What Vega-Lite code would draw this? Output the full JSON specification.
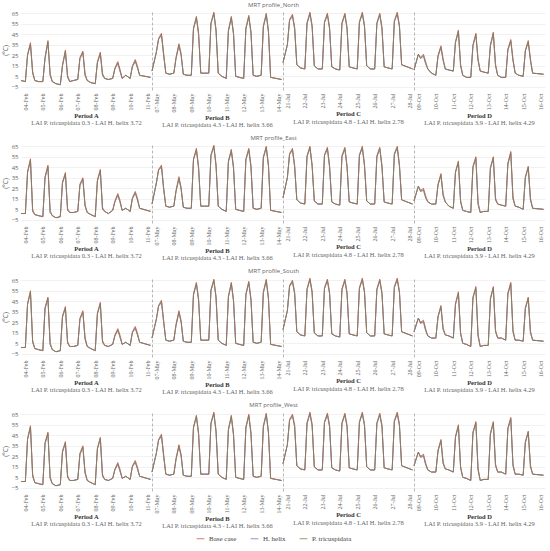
{
"$schema":"https://vega.github.io/schema/vega-lite/v6.json",
"padding":{"left":2,"right":2,"top":2,"bottom":2},
"spacing":6,
"config":{
 "view":{"stroke":null,"continuousWidth":131,"continuousHeight":80},
 "line":{"strokeWidth":0.8},
 "axis":{"labelColor":"#666","gridColor":"#e8e8e8","gridWidth":0.6,"ticks":false,"domain":false,"labelFontSize":6,"titleFontSize":6.5,"titleFontWeight":"normal","titleColor":"#666","titleFont":"Open Sans"},
 "axisX":{"labelFont":"Liberation Serif","labelAngle":-90,"grid":false,"labelPadding":3},
 "axisY":{"labelFont":"Open Sans","labelPadding":3,"titlePadding":3},
 "title":{"orient":"bottom","anchor":"middle","font":"Liberation Serif","fontSize":6.5,"fontWeight":"bold","color":"#333","subtitleFont":"Liberation Serif","subtitleFontSize":6.5,"subtitleColor":"#666","subtitlePadding":1,"offset":3},
 "legend":{"orient":"bottom","direction":"horizontal","symbolType":"stroke","symbolStrokeWidth":1.5,"symbolSize":60,"labelFont":"Liberation Serif","labelFontSize":7,"labelColor":"#444","columnPadding":12,"offset":4,"layout":{"bottom":{"anchor":"middle"}}}
},
"datasets":{
"NA":[{"t":-6,"b":1,"h":1,"q":1},{"t":0,"b":0,"h":0,"q":0},{"t":3,"b":26,"h":25,"q":25},{"t":7,"b":37,"h":35,"q":36},{"t":10,"b":10,"h":8,"q":8},{"t":13,"b":1,"h":1,"q":1},
{"t":18,"b":0,"h":0,"q":0},{"t":24,"b":0,"h":0,"q":0},{"t":27,"b":23,"h":22,"q":22},{"t":31,"b":39,"h":37,"q":38},{"t":34,"b":8,"h":6,"q":6},{"t":37,"b":0,"h":0,"q":0},
{"t":42,"b":-2,"h":-2,"q":-2},{"t":48,"b":-3,"h":-3,"q":-3},{"t":51,"b":16,"h":15,"q":15},{"t":55,"b":30,"h":28,"q":29},{"t":58,"b":6,"h":4,"q":4},{"t":61,"b":0,"h":0,"q":0},
{"t":66,"b":1,"h":1,"q":1},{"t":72,"b":2,"h":2,"q":2},{"t":75,"b":23,"h":22,"q":22},{"t":79,"b":29,"h":27,"q":28},{"t":82,"b":8,"h":6,"q":6},{"t":85,"b":1,"h":1,"q":1},
{"t":90,"b":-1,"h":-1,"q":-1},{"t":96,"b":-2,"h":-2,"q":-2},{"t":99,"b":19,"h":18,"q":18},{"t":103,"b":28,"h":26,"q":27},{"t":106,"b":8,"h":6,"q":6},{"t":109,"b":3,"h":3,"q":3},
{"t":114,"b":2,"h":2,"q":2},{"t":120,"b":3,"h":3,"q":3},{"t":123,"b":13,"h":12,"q":12},{"t":127,"b":19,"h":17,"q":18},{"t":130,"b":12,"h":10,"q":10},{"t":133,"b":3,"h":3,"q":3},
{"t":138,"b":6,"h":6,"q":6},{"t":144,"b":3,"h":3,"q":3},{"t":147,"b":15,"h":14,"q":14},{"t":151,"b":21,"h":19,"q":20},{"t":154,"b":15,"h":13,"q":13},{"t":157,"b":6,"h":6,"q":6},
{"t":172,"b":4,"h":4,"q":4}],
"EA":[{"t":-6,"b":1,"h":1,"q":1},{"t":0,"b":1,"h":1,"q":1},{"t":3,"b":41,"h":40,"q":40},{"t":7,"b":53,"h":51,"q":52},{"t":10,"b":5,"h":3,"q":3},{"t":13,"b":0,"h":0,"q":0},
{"t":18,"b":-1,"h":-1,"q":-1},{"t":24,"b":-2,"h":-2,"q":-2},{"t":27,"b":36,"h":35,"q":35},{"t":31,"b":47,"h":45,"q":46},{"t":34,"b":4,"h":2,"q":2},{"t":37,"b":-1,"h":-1,"q":-1},
{"t":42,"b":-3,"h":-3,"q":-3},{"t":48,"b":-2,"h":-2,"q":-2},{"t":51,"b":31,"h":30,"q":30},{"t":55,"b":40,"h":38,"q":39},{"t":58,"b":6,"h":4,"q":4},{"t":61,"b":2,"h":2,"q":2},
{"t":66,"b":2,"h":2,"q":2},{"t":72,"b":3,"h":3,"q":3},{"t":75,"b":29,"h":28,"q":28},{"t":79,"b":35,"h":33,"q":34},{"t":82,"b":10,"h":8,"q":8},{"t":85,"b":2,"h":2,"q":2},
{"t":90,"b":0,"h":0,"q":0},{"t":96,"b":-2,"h":-2,"q":-2},{"t":99,"b":33,"h":32,"q":32},{"t":103,"b":43,"h":41,"q":42},{"t":106,"b":7,"h":5,"q":5},{"t":109,"b":3,"h":3,"q":3},
{"t":114,"b":1,"h":1,"q":1},{"t":120,"b":4,"h":4,"q":4},{"t":123,"b":13,"h":12,"q":12},{"t":127,"b":20,"h":18,"q":19},{"t":130,"b":14,"h":12,"q":12},{"t":133,"b":4,"h":4,"q":4},
{"t":138,"b":6,"h":6,"q":6},{"t":144,"b":3,"h":3,"q":3},{"t":147,"b":16,"h":15,"q":15},{"t":151,"b":22,"h":20,"q":21},{"t":154,"b":16,"h":14,"q":14},{"t":157,"b":6,"h":6,"q":6},
{"t":172,"b":3,"h":3,"q":3}],
"SA":[{"t":-6,"b":1,"h":1,"q":1},{"t":0,"b":1,"h":1,"q":1},{"t":3,"b":43,"h":42,"q":42},{"t":7,"b":55,"h":53,"q":54},{"t":10,"b":8,"h":6,"q":6},{"t":13,"b":0,"h":0,"q":0},
{"t":18,"b":-1,"h":-1,"q":-1},{"t":24,"b":-2,"h":-2,"q":-2},{"t":27,"b":39,"h":38,"q":38},{"t":31,"b":49,"h":47,"q":48},{"t":34,"b":6,"h":4,"q":4},{"t":37,"b":-1,"h":-1,"q":-1},
{"t":42,"b":-3,"h":-3,"q":-3},{"t":48,"b":-2,"h":-2,"q":-2},{"t":51,"b":31,"h":30,"q":30},{"t":55,"b":40,"h":38,"q":39},{"t":58,"b":7,"h":5,"q":5},{"t":61,"b":2,"h":2,"q":2},
{"t":66,"b":2,"h":2,"q":2},{"t":72,"b":3,"h":3,"q":3},{"t":75,"b":29,"h":28,"q":28},{"t":79,"b":36,"h":34,"q":35},{"t":82,"b":11,"h":9,"q":9},{"t":85,"b":2,"h":2,"q":2},
{"t":90,"b":0,"h":0,"q":0},{"t":96,"b":-2,"h":-2,"q":-2},{"t":99,"b":34,"h":33,"q":33},{"t":103,"b":44,"h":42,"q":43},{"t":106,"b":8,"h":6,"q":6},{"t":109,"b":3,"h":3,"q":3},
{"t":114,"b":2,"h":2,"q":2},{"t":120,"b":4,"h":4,"q":4},{"t":123,"b":13,"h":12,"q":12},{"t":127,"b":19,"h":17,"q":18},{"t":130,"b":13,"h":11,"q":11},{"t":133,"b":4,"h":4,"q":4},
{"t":138,"b":6,"h":6,"q":6},{"t":144,"b":3,"h":3,"q":3},{"t":147,"b":16,"h":15,"q":15},{"t":151,"b":21,"h":19,"q":20},{"t":154,"b":15,"h":13,"q":13},{"t":157,"b":6,"h":6,"q":6},
{"t":172,"b":3,"h":3,"q":3}],
"WA":[{"t":-6,"b":1,"h":1,"q":1},{"t":0,"b":1,"h":1,"q":1},{"t":3,"b":42,"h":41,"q":41},{"t":7,"b":54,"h":52,"q":53},{"t":10,"b":8,"h":6,"q":6},{"t":13,"b":0,"h":0,"q":0},
{"t":18,"b":-1,"h":-1,"q":-1},{"t":24,"b":-2,"h":-2,"q":-2},{"t":27,"b":38,"h":37,"q":37},{"t":31,"b":48,"h":46,"q":47},{"t":34,"b":6,"h":4,"q":4},{"t":37,"b":-1,"h":-1,"q":-1},
{"t":42,"b":-3,"h":-3,"q":-3},{"t":48,"b":-2,"h":-2,"q":-2},{"t":51,"b":30,"h":29,"q":29},{"t":55,"b":39,"h":37,"q":38},{"t":58,"b":7,"h":5,"q":5},{"t":61,"b":2,"h":2,"q":2},
{"t":66,"b":2,"h":2,"q":2},{"t":72,"b":3,"h":3,"q":3},{"t":75,"b":28,"h":27,"q":27},{"t":79,"b":35,"h":33,"q":34},{"t":82,"b":11,"h":9,"q":9},{"t":85,"b":2,"h":2,"q":2},
{"t":90,"b":0,"h":0,"q":0},{"t":96,"b":-2,"h":-2,"q":-2},{"t":99,"b":33,"h":32,"q":32},{"t":103,"b":43,"h":41,"q":42},{"t":106,"b":8,"h":6,"q":6},{"t":109,"b":3,"h":3,"q":3},
{"t":114,"b":2,"h":2,"q":2},{"t":120,"b":4,"h":4,"q":4},{"t":123,"b":13,"h":12,"q":12},{"t":127,"b":19,"h":17,"q":18},{"t":130,"b":13,"h":11,"q":11},{"t":133,"b":4,"h":4,"q":4},
{"t":138,"b":6,"h":6,"q":6},{"t":144,"b":3,"h":3,"q":3},{"t":147,"b":16,"h":15,"q":15},{"t":151,"b":21,"h":19,"q":20},{"t":154,"b":15,"h":13,"q":13},{"t":157,"b":6,"h":6,"q":6},
{"t":172,"b":3,"h":3,"q":3}],
"NB":[{"t":-6,"b":10,"h":10,"q":10},{"t":0,"b":28,"h":28,"q":28},{"t":3,"b":41,"h":40,"q":40},{"t":7,"b":46,"h":44,"q":45},{"t":10,"b":27,"h":25,"q":25},{"t":13,"b":8,"h":8,"q":8},
{"t":18,"b":7,"h":7,"q":7},{"t":24,"b":8,"h":8,"q":8},{"t":27,"b":23,"h":22,"q":22},{"t":31,"b":36,"h":34,"q":35},{"t":34,"b":27,"h":25,"q":25},{"t":37,"b":7,"h":7,"q":7},
{"t":42,"b":6,"h":6,"q":6},{"t":48,"b":6,"h":6,"q":6},{"t":51,"b":51,"h":50,"q":50},{"t":55,"b":62,"h":60,"q":61},{"t":58,"b":47,"h":45,"q":45},{"t":61,"b":8,"h":8,"q":8},
{"t":66,"b":8,"h":8,"q":8},{"t":72,"b":8,"h":8,"q":8},{"t":75,"b":56,"h":55,"q":55},{"t":79,"b":66,"h":64,"q":65},{"t":82,"b":50,"h":48,"q":48},{"t":85,"b":8,"h":8,"q":8},
{"t":90,"b":5,"h":5,"q":5},{"t":96,"b":3,"h":3,"q":3},{"t":99,"b":49,"h":48,"q":48},{"t":103,"b":62,"h":60,"q":61},{"t":106,"b":47,"h":45,"q":45},{"t":109,"b":5,"h":5,"q":5},
{"t":114,"b":4,"h":4,"q":4},{"t":120,"b":3,"h":3,"q":3},{"t":123,"b":51,"h":50,"q":50},{"t":127,"b":63,"h":61,"q":62},{"t":130,"b":48,"h":46,"q":46},{"t":133,"b":6,"h":6,"q":6},
{"t":138,"b":5,"h":5,"q":5},{"t":144,"b":6,"h":6,"q":6},{"t":147,"b":53,"h":52,"q":52},{"t":151,"b":65,"h":63,"q":64},{"t":154,"b":49,"h":47,"q":47},{"t":157,"b":4,"h":4,"q":4},
{"t":172,"b":2,"h":2,"q":2}],
"EB":[{"t":-6,"b":10,"h":10,"q":10},{"t":0,"b":30,"h":30,"q":30},{"t":3,"b":43,"h":42,"q":42},{"t":7,"b":47,"h":45,"q":46},{"t":10,"b":26,"h":24,"q":24},{"t":13,"b":8,"h":8,"q":8},
{"t":18,"b":7,"h":7,"q":7},{"t":24,"b":8,"h":8,"q":8},{"t":27,"b":23,"h":22,"q":22},{"t":31,"b":36,"h":34,"q":35},{"t":34,"b":26,"h":24,"q":24},{"t":37,"b":7,"h":7,"q":7},
{"t":42,"b":6,"h":6,"q":6},{"t":48,"b":6,"h":6,"q":6},{"t":51,"b":53,"h":52,"q":52},{"t":55,"b":63,"h":61,"q":62},{"t":58,"b":46,"h":44,"q":44},{"t":61,"b":8,"h":8,"q":8},
{"t":66,"b":8,"h":8,"q":8},{"t":72,"b":8,"h":8,"q":8},{"t":75,"b":57,"h":56,"q":56},{"t":79,"b":66,"h":64,"q":65},{"t":82,"b":48,"h":46,"q":46},{"t":85,"b":8,"h":8,"q":8},
{"t":90,"b":5,"h":5,"q":5},{"t":96,"b":3,"h":3,"q":3},{"t":99,"b":51,"h":50,"q":50},{"t":103,"b":62,"h":60,"q":61},{"t":106,"b":46,"h":44,"q":44},{"t":109,"b":5,"h":5,"q":5},
{"t":114,"b":4,"h":4,"q":4},{"t":120,"b":3,"h":3,"q":3},{"t":123,"b":53,"h":52,"q":52},{"t":127,"b":63,"h":61,"q":62},{"t":130,"b":47,"h":45,"q":45},{"t":133,"b":6,"h":6,"q":6},
{"t":138,"b":5,"h":5,"q":5},{"t":144,"b":6,"h":6,"q":6},{"t":147,"b":55,"h":54,"q":54},{"t":151,"b":65,"h":63,"q":64},{"t":154,"b":48,"h":46,"q":46},{"t":157,"b":4,"h":4,"q":4},
{"t":172,"b":2,"h":2,"q":2}],
"SB":[{"t":-6,"b":10,"h":10,"q":10},{"t":0,"b":28,"h":28,"q":28},{"t":3,"b":41,"h":40,"q":40},{"t":7,"b":46,"h":44,"q":45},{"t":10,"b":27,"h":25,"q":25},{"t":13,"b":8,"h":8,"q":8},
{"t":18,"b":7,"h":7,"q":7},{"t":24,"b":8,"h":8,"q":8},{"t":27,"b":23,"h":22,"q":22},{"t":31,"b":36,"h":34,"q":35},{"t":34,"b":27,"h":25,"q":25},{"t":37,"b":7,"h":7,"q":7},
{"t":42,"b":6,"h":6,"q":6},{"t":48,"b":6,"h":6,"q":6},{"t":51,"b":52,"h":51,"q":51},{"t":55,"b":63,"h":61,"q":62},{"t":58,"b":48,"h":46,"q":46},{"t":61,"b":8,"h":8,"q":8},
{"t":66,"b":8,"h":8,"q":8},{"t":72,"b":8,"h":8,"q":8},{"t":75,"b":56,"h":55,"q":55},{"t":79,"b":66,"h":64,"q":65},{"t":82,"b":50,"h":48,"q":48},{"t":85,"b":8,"h":8,"q":8},
{"t":90,"b":5,"h":5,"q":5},{"t":96,"b":3,"h":3,"q":3},{"t":99,"b":50,"h":49,"q":49},{"t":103,"b":63,"h":61,"q":62},{"t":106,"b":47,"h":45,"q":45},{"t":109,"b":5,"h":5,"q":5},
{"t":114,"b":4,"h":4,"q":4},{"t":120,"b":3,"h":3,"q":3},{"t":123,"b":52,"h":51,"q":51},{"t":127,"b":64,"h":62,"q":63},{"t":130,"b":48,"h":46,"q":46},{"t":133,"b":6,"h":6,"q":6},
{"t":138,"b":5,"h":5,"q":5},{"t":144,"b":6,"h":6,"q":6},{"t":147,"b":54,"h":53,"q":53},{"t":151,"b":66,"h":64,"q":65},{"t":154,"b":49,"h":47,"q":47},{"t":157,"b":4,"h":4,"q":4},
{"t":172,"b":2,"h":2,"q":2}],
"WB":[{"t":-6,"b":10,"h":10,"q":10},{"t":0,"b":28,"h":28,"q":28},{"t":3,"b":41,"h":40,"q":40},{"t":7,"b":46,"h":44,"q":45},{"t":10,"b":27,"h":25,"q":25},{"t":13,"b":8,"h":8,"q":8},
{"t":18,"b":7,"h":7,"q":7},{"t":24,"b":8,"h":8,"q":8},{"t":27,"b":23,"h":22,"q":22},{"t":31,"b":36,"h":34,"q":35},{"t":34,"b":27,"h":25,"q":25},{"t":37,"b":7,"h":7,"q":7},
{"t":42,"b":6,"h":6,"q":6},{"t":48,"b":6,"h":6,"q":6},{"t":51,"b":53,"h":52,"q":52},{"t":55,"b":64,"h":62,"q":63},{"t":58,"b":48,"h":46,"q":46},{"t":61,"b":8,"h":8,"q":8},
{"t":66,"b":8,"h":8,"q":8},{"t":72,"b":8,"h":8,"q":8},{"t":75,"b":57,"h":56,"q":56},{"t":79,"b":67,"h":65,"q":66},{"t":82,"b":50,"h":48,"q":48},{"t":85,"b":8,"h":8,"q":8},
{"t":90,"b":5,"h":5,"q":5},{"t":96,"b":3,"h":3,"q":3},{"t":99,"b":51,"h":50,"q":50},{"t":103,"b":64,"h":62,"q":63},{"t":106,"b":47,"h":45,"q":45},{"t":109,"b":5,"h":5,"q":5},
{"t":114,"b":4,"h":4,"q":4},{"t":120,"b":3,"h":3,"q":3},{"t":123,"b":53,"h":52,"q":52},{"t":127,"b":65,"h":63,"q":64},{"t":130,"b":48,"h":46,"q":46},{"t":133,"b":6,"h":6,"q":6},
{"t":138,"b":5,"h":5,"q":5},{"t":144,"b":6,"h":6,"q":6},{"t":147,"b":54,"h":53,"q":53},{"t":151,"b":66,"h":64,"q":65},{"t":154,"b":49,"h":47,"q":47},{"t":157,"b":4,"h":4,"q":4},
{"t":172,"b":2,"h":2,"q":2}],
"NC":[{"t":-6,"b":18,"h":18,"q":18},{"t":0,"b":35,"h":35,"q":35},{"t":3,"b":59,"h":58,"q":58},{"t":7,"b":64,"h":62,"q":63},{"t":10,"b":52,"h":50,"q":50},{"t":13,"b":16,"h":16,"q":16},
{"t":18,"b":13,"h":13,"q":13},{"t":24,"b":12,"h":12,"q":12},{"t":27,"b":56,"h":55,"q":55},{"t":31,"b":66,"h":64,"q":65},{"t":34,"b":54,"h":52,"q":52},{"t":37,"b":15,"h":15,"q":15},
{"t":42,"b":12,"h":12,"q":12},{"t":48,"b":12,"h":12,"q":12},{"t":51,"b":57,"h":56,"q":56},{"t":55,"b":65,"h":63,"q":64},{"t":58,"b":52,"h":50,"q":50},{"t":61,"b":14,"h":14,"q":14},
{"t":66,"b":12,"h":12,"q":12},{"t":72,"b":11,"h":11,"q":11},{"t":75,"b":56,"h":55,"q":55},{"t":79,"b":65,"h":63,"q":64},{"t":82,"b":52,"h":50,"q":50},{"t":85,"b":14,"h":14,"q":14},
{"t":90,"b":13,"h":13,"q":13},{"t":96,"b":12,"h":12,"q":12},{"t":99,"b":57,"h":56,"q":56},{"t":103,"b":66,"h":64,"q":65},{"t":106,"b":54,"h":52,"q":52},{"t":109,"b":15,"h":15,"q":15},
{"t":114,"b":12,"h":12,"q":12},{"t":120,"b":12,"h":12,"q":12},{"t":123,"b":56,"h":55,"q":55},{"t":127,"b":65,"h":63,"q":64},{"t":130,"b":52,"h":50,"q":50},{"t":133,"b":14,"h":14,"q":14},
{"t":138,"b":13,"h":13,"q":13},{"t":144,"b":12,"h":12,"q":12},{"t":147,"b":58,"h":57,"q":57},{"t":151,"b":66,"h":64,"q":65},{"t":154,"b":54,"h":52,"q":52},{"t":157,"b":16,"h":16,"q":16},
{"t":172,"b":12,"h":12,"q":12}],
"EC":[{"t":-6,"b":16,"h":16,"q":16},{"t":0,"b":35,"h":35,"q":35},{"t":3,"b":58,"h":57,"q":57},{"t":7,"b":63,"h":61,"q":62},{"t":10,"b":47,"h":45,"q":45},{"t":13,"b":14,"h":14,"q":14},
{"t":18,"b":11,"h":11,"q":11},{"t":24,"b":10,"h":10,"q":10},{"t":27,"b":56,"h":55,"q":55},{"t":31,"b":65,"h":63,"q":64},{"t":34,"b":48,"h":46,"q":46},{"t":37,"b":13,"h":13,"q":13},
{"t":42,"b":10,"h":10,"q":10},{"t":48,"b":10,"h":10,"q":10},{"t":51,"b":57,"h":56,"q":56},{"t":55,"b":64,"h":62,"q":63},{"t":58,"b":47,"h":45,"q":45},{"t":61,"b":12,"h":12,"q":12},
{"t":66,"b":10,"h":10,"q":10},{"t":72,"b":9,"h":9,"q":9},{"t":75,"b":56,"h":55,"q":55},{"t":79,"b":64,"h":62,"q":63},{"t":82,"b":47,"h":45,"q":45},{"t":85,"b":12,"h":12,"q":12},
{"t":90,"b":11,"h":11,"q":11},{"t":96,"b":10,"h":10,"q":10},{"t":99,"b":57,"h":56,"q":56},{"t":103,"b":65,"h":63,"q":64},{"t":106,"b":48,"h":46,"q":46},{"t":109,"b":13,"h":13,"q":13},
{"t":114,"b":10,"h":10,"q":10},{"t":120,"b":10,"h":10,"q":10},{"t":123,"b":56,"h":55,"q":55},{"t":127,"b":64,"h":62,"q":63},{"t":130,"b":47,"h":45,"q":45},{"t":133,"b":12,"h":12,"q":12},
{"t":138,"b":11,"h":11,"q":11},{"t":144,"b":10,"h":10,"q":10},{"t":147,"b":58,"h":57,"q":57},{"t":151,"b":65,"h":63,"q":64},{"t":154,"b":48,"h":46,"q":46},{"t":157,"b":14,"h":14,"q":14},
{"t":172,"b":10,"h":10,"q":10}],
"SC":[{"t":-6,"b":18,"h":18,"q":18},{"t":0,"b":36,"h":36,"q":36},{"t":3,"b":60,"h":59,"q":59},{"t":7,"b":65,"h":63,"q":64},{"t":10,"b":54,"h":52,"q":52},{"t":13,"b":16,"h":16,"q":16},
{"t":18,"b":13,"h":13,"q":13},{"t":24,"b":12,"h":12,"q":12},{"t":27,"b":57,"h":56,"q":56},{"t":31,"b":67,"h":65,"q":66},{"t":34,"b":55,"h":53,"q":53},{"t":37,"b":15,"h":15,"q":15},
{"t":42,"b":12,"h":12,"q":12},{"t":48,"b":12,"h":12,"q":12},{"t":51,"b":58,"h":57,"q":57},{"t":55,"b":66,"h":64,"q":65},{"t":58,"b":54,"h":52,"q":52},{"t":61,"b":14,"h":14,"q":14},
{"t":66,"b":12,"h":12,"q":12},{"t":72,"b":11,"h":11,"q":11},{"t":75,"b":57,"h":56,"q":56},{"t":79,"b":66,"h":64,"q":65},{"t":82,"b":54,"h":52,"q":52},{"t":85,"b":14,"h":14,"q":14},
{"t":90,"b":13,"h":13,"q":13},{"t":96,"b":12,"h":12,"q":12},{"t":99,"b":58,"h":57,"q":57},{"t":103,"b":67,"h":65,"q":66},{"t":106,"b":55,"h":53,"q":53},{"t":109,"b":15,"h":15,"q":15},
{"t":114,"b":12,"h":12,"q":12},{"t":120,"b":12,"h":12,"q":12},{"t":123,"b":57,"h":56,"q":56},{"t":127,"b":66,"h":64,"q":65},{"t":130,"b":54,"h":52,"q":52},{"t":133,"b":14,"h":14,"q":14},
{"t":138,"b":13,"h":13,"q":13},{"t":144,"b":12,"h":12,"q":12},{"t":147,"b":59,"h":58,"q":58},{"t":151,"b":67,"h":65,"q":66},{"t":154,"b":55,"h":53,"q":53},{"t":157,"b":16,"h":16,"q":16},
{"t":172,"b":12,"h":12,"q":12}],
"WC":[{"t":-6,"b":18,"h":18,"q":18},{"t":0,"b":36,"h":36,"q":36},{"t":3,"b":60,"h":59,"q":59},{"t":7,"b":65,"h":63,"q":64},{"t":10,"b":55,"h":53,"q":53},{"t":13,"b":16,"h":16,"q":16},
{"t":18,"b":13,"h":13,"q":13},{"t":24,"b":12,"h":12,"q":12},{"t":27,"b":57,"h":56,"q":56},{"t":31,"b":67,"h":65,"q":66},{"t":34,"b":56,"h":54,"q":54},{"t":37,"b":15,"h":15,"q":15},
{"t":42,"b":12,"h":12,"q":12},{"t":48,"b":12,"h":12,"q":12},{"t":51,"b":58,"h":57,"q":57},{"t":55,"b":66,"h":64,"q":65},{"t":58,"b":55,"h":53,"q":53},{"t":61,"b":14,"h":14,"q":14},
{"t":66,"b":12,"h":12,"q":12},{"t":72,"b":11,"h":11,"q":11},{"t":75,"b":57,"h":56,"q":56},{"t":79,"b":66,"h":64,"q":65},{"t":82,"b":55,"h":53,"q":53},{"t":85,"b":14,"h":14,"q":14},
{"t":90,"b":13,"h":13,"q":13},{"t":96,"b":12,"h":12,"q":12},{"t":99,"b":58,"h":57,"q":57},{"t":103,"b":67,"h":65,"q":66},{"t":106,"b":56,"h":54,"q":54},{"t":109,"b":15,"h":15,"q":15},
{"t":114,"b":12,"h":12,"q":12},{"t":120,"b":12,"h":12,"q":12},{"t":123,"b":57,"h":56,"q":56},{"t":127,"b":66,"h":64,"q":65},{"t":130,"b":55,"h":53,"q":53},{"t":133,"b":14,"h":14,"q":14},
{"t":138,"b":13,"h":13,"q":13},{"t":144,"b":12,"h":12,"q":12},{"t":147,"b":59,"h":58,"q":58},{"t":151,"b":67,"h":65,"q":66},{"t":154,"b":56,"h":54,"q":54},{"t":157,"b":16,"h":16,"q":16},
{"t":172,"b":12,"h":12,"q":12}],
"ND":[{"t":-6,"b":11,"h":11,"q":11},{"t":0,"b":26,"h":26,"q":26},{"t":3,"b":23,"h":22,"q":22},{"t":7,"b":26,"h":24,"q":25},{"t":10,"b":19,"h":17,"q":17},{"t":13,"b":12,"h":12,"q":12},
{"t":18,"b":8,"h":8,"q":8},{"t":24,"b":6,"h":6,"q":6},{"t":27,"b":25,"h":24,"q":24},{"t":31,"b":34,"h":32,"q":33},{"t":34,"b":22,"h":20,"q":20},{"t":37,"b":12,"h":12,"q":12},
{"t":42,"b":11,"h":11,"q":11},{"t":48,"b":10,"h":10,"q":10},{"t":51,"b":38,"h":37,"q":37},{"t":55,"b":49,"h":47,"q":48},{"t":58,"b":17,"h":15,"q":15},{"t":61,"b":6,"h":6,"q":6},
{"t":66,"b":4,"h":4,"q":4},{"t":72,"b":4,"h":4,"q":4},{"t":75,"b":35,"h":34,"q":34},{"t":79,"b":46,"h":44,"q":45},{"t":82,"b":22,"h":20,"q":20},{"t":85,"b":10,"h":10,"q":10},
{"t":90,"b":9,"h":9,"q":9},{"t":96,"b":8,"h":8,"q":8},{"t":99,"b":35,"h":34,"q":34},{"t":103,"b":47,"h":45,"q":46},{"t":106,"b":17,"h":15,"q":15},{"t":109,"b":6,"h":6,"q":6},
{"t":114,"b":4,"h":4,"q":4},{"t":120,"b":4,"h":4,"q":4},{"t":123,"b":31,"h":30,"q":30},{"t":127,"b":40,"h":38,"q":39},{"t":130,"b":22,"h":20,"q":20},{"t":133,"b":8,"h":8,"q":8},
{"t":138,"b":6,"h":6,"q":6},{"t":144,"b":5,"h":5,"q":5},{"t":147,"b":30,"h":29,"q":29},{"t":151,"b":39,"h":37,"q":38},{"t":154,"b":22,"h":20,"q":20},{"t":157,"b":8,"h":8,"q":8},
{"t":172,"b":7,"h":7,"q":7}],
"ED":[{"t":-6,"b":13,"h":13,"q":13},{"t":0,"b":27,"h":27,"q":27},{"t":3,"b":23,"h":22,"q":22},{"t":7,"b":25,"h":23,"q":24},{"t":10,"b":18,"h":16,"q":16},{"t":13,"b":12,"h":12,"q":12},
{"t":18,"b":10,"h":10,"q":10},{"t":24,"b":10,"h":10,"q":10},{"t":27,"b":29,"h":28,"q":28},{"t":31,"b":39,"h":37,"q":38},{"t":34,"b":20,"h":18,"q":18},{"t":37,"b":12,"h":12,"q":12},
{"t":42,"b":8,"h":8,"q":8},{"t":48,"b":6,"h":6,"q":6},{"t":51,"b":41,"h":40,"q":40},{"t":55,"b":51,"h":49,"q":50},{"t":58,"b":14,"h":12,"q":12},{"t":61,"b":4,"h":4,"q":4},
{"t":66,"b":3,"h":3,"q":3},{"t":72,"b":2,"h":2,"q":2},{"t":75,"b":46,"h":45,"q":45},{"t":79,"b":55,"h":53,"q":54},{"t":82,"b":12,"h":10,"q":10},{"t":85,"b":2,"h":2,"q":2},
{"t":90,"b":3,"h":3,"q":3},{"t":96,"b":3,"h":3,"q":3},{"t":99,"b":45,"h":44,"q":44},{"t":103,"b":55,"h":53,"q":54},{"t":106,"b":16,"h":14,"q":14},{"t":109,"b":10,"h":10,"q":10},
{"t":114,"b":9,"h":9,"q":9},{"t":120,"b":8,"h":8,"q":8},{"t":123,"b":49,"h":48,"q":48},{"t":127,"b":60,"h":58,"q":59},{"t":130,"b":17,"h":15,"q":15},{"t":133,"b":8,"h":8,"q":8},
{"t":138,"b":7,"h":7,"q":7},{"t":144,"b":5,"h":5,"q":5},{"t":147,"b":36,"h":35,"q":35},{"t":151,"b":46,"h":44,"q":45},{"t":154,"b":16,"h":14,"q":14},{"t":157,"b":6,"h":6,"q":6},
{"t":172,"b":5,"h":5,"q":5}],
"SD":[{"t":-6,"b":16,"h":16,"q":16},{"t":0,"b":29,"h":29,"q":29},{"t":3,"b":25,"h":24,"q":24},{"t":7,"b":27,"h":25,"q":26},{"t":10,"b":19,"h":17,"q":17},{"t":13,"b":12,"h":12,"q":12},
{"t":18,"b":10,"h":10,"q":10},{"t":24,"b":10,"h":10,"q":10},{"t":27,"b":31,"h":30,"q":30},{"t":31,"b":41,"h":39,"q":40},{"t":34,"b":20,"h":18,"q":18},{"t":37,"b":13,"h":13,"q":13},
{"t":42,"b":12,"h":12,"q":12},{"t":48,"b":10,"h":10,"q":10},{"t":51,"b":43,"h":42,"q":42},{"t":55,"b":54,"h":52,"q":53},{"t":58,"b":16,"h":14,"q":14},{"t":61,"b":5,"h":5,"q":5},
{"t":66,"b":4,"h":4,"q":4},{"t":72,"b":2,"h":2,"q":2},{"t":75,"b":49,"h":48,"q":48},{"t":79,"b":59,"h":57,"q":58},{"t":82,"b":14,"h":12,"q":12},{"t":85,"b":2,"h":2,"q":2},
{"t":90,"b":3,"h":3,"q":3},{"t":96,"b":3,"h":3,"q":3},{"t":99,"b":48,"h":47,"q":47},{"t":103,"b":59,"h":57,"q":58},{"t":106,"b":18,"h":16,"q":16},{"t":109,"b":10,"h":10,"q":10},
{"t":114,"b":10,"h":10,"q":10},{"t":120,"b":8,"h":8,"q":8},{"t":123,"b":53,"h":52,"q":52},{"t":127,"b":63,"h":61,"q":62},{"t":130,"b":18,"h":16,"q":16},{"t":133,"b":8,"h":8,"q":8},
{"t":138,"b":8,"h":8,"q":8},{"t":144,"b":7,"h":7,"q":7},{"t":147,"b":39,"h":38,"q":38},{"t":151,"b":49,"h":47,"q":48},{"t":154,"b":17,"h":15,"q":15},{"t":157,"b":8,"h":8,"q":8},
{"t":172,"b":7,"h":7,"q":7}],
"WD":[{"t":-6,"b":16,"h":16,"q":16},{"t":0,"b":29,"h":29,"q":29},{"t":3,"b":25,"h":24,"q":24},{"t":7,"b":27,"h":25,"q":26},{"t":10,"b":19,"h":17,"q":17},{"t":13,"b":12,"h":12,"q":12},
{"t":18,"b":10,"h":10,"q":10},{"t":24,"b":10,"h":10,"q":10},{"t":27,"b":31,"h":30,"q":30},{"t":31,"b":41,"h":39,"q":40},{"t":34,"b":20,"h":18,"q":18},{"t":37,"b":13,"h":13,"q":13},
{"t":42,"b":12,"h":12,"q":12},{"t":48,"b":10,"h":10,"q":10},{"t":51,"b":44,"h":43,"q":43},{"t":55,"b":55,"h":53,"q":54},{"t":58,"b":16,"h":14,"q":14},{"t":61,"b":5,"h":5,"q":5},
{"t":66,"b":4,"h":4,"q":4},{"t":72,"b":2,"h":2,"q":2},{"t":75,"b":48,"h":47,"q":47},{"t":79,"b":58,"h":56,"q":57},{"t":82,"b":14,"h":12,"q":12},{"t":85,"b":2,"h":2,"q":2},
{"t":90,"b":3,"h":3,"q":3},{"t":96,"b":3,"h":3,"q":3},{"t":99,"b":47,"h":46,"q":46},{"t":103,"b":58,"h":56,"q":57},{"t":106,"b":18,"h":16,"q":16},{"t":109,"b":10,"h":10,"q":10},
{"t":114,"b":10,"h":10,"q":10},{"t":120,"b":8,"h":8,"q":8},{"t":123,"b":52,"h":51,"q":51},{"t":127,"b":62,"h":60,"q":61},{"t":130,"b":18,"h":16,"q":16},{"t":133,"b":8,"h":8,"q":8},
{"t":138,"b":8,"h":8,"q":8},{"t":144,"b":7,"h":7,"q":7},{"t":147,"b":39,"h":38,"q":38},{"t":151,"b":49,"h":47,"q":48},{"t":154,"b":17,"h":15,"q":15},{"t":157,"b":8,"h":8,"q":8},
{"t":172,"b":7,"h":7,"q":7}]
},
"vconcat":[
{"title":{"text":"MRT profile_North","orient":"top","anchor":"middle","font":"Open Sans","fontSize":6,"fontWeight":"normal","color":"#666","offset":2},"bounds":"flush","spacing":0,"hconcat":[
{"data":{"name":"NA"},"title":{"text":"Period A","subtitle":"LAI P. tricuspidata 0.3 - LAI H. helix 3.72"},"transform":[{"fold":["b","h","q"],"as":["s","v"]}],"mark":"line","encoding":{"x":{"field":"t","type":"quantitative","scale":{"domain":[-6,174],"nice":false},"axis":{"title":null,"values":[0,24,48,72,96,120,144,168],"labelExpr":"['04-Feb','05-Feb','06-Feb','07-Feb','08-Feb','09-Feb','10-Feb','11-Feb'][round(datum.value/24)]"}},"y":{"field":"v","type":"quantitative","scale":{"domain":[-8,68],"nice":false},"axis":{"values":[-5,5,15,25,35,45,55,65],"title":"(°C)"}},"color":{"field":"s","type":"nominal","scale":{"domain":["b","h","q"],"range":["#d9534f","#6f7fc4","#8a7d48"]},"legend":{"title":null,"labelExpr":"datum.value=='b'?'Base case':datum.value=='h'?'H. helix':'P. tricuspidata'"}}}},
{"data":{"name":"NB"},"title":{"text":"Period B","subtitle":"LAI P. tricuspidata 4.3 - LAI H. helix 3.66"},"transform":[{"fold":["b","h","q"],"as":["s","v"]}],"mark":"line","encoding":{"x":{"field":"t","type":"quantitative","scale":{"domain":[-6,174],"nice":false},"axis":{"title":null,"values":[0,24,48,72,96,120,144,168],"labelExpr":"['07-May','08-May','09-May','10-May','11-May','12-May','13-May','14-May'][round(datum.value/24)]"}},"y":{"field":"v","type":"quantitative","scale":{"domain":[-8,68],"nice":false},"axis":{"values":[-5,5,15,25,35,45,55,65],"labels":false,"title":null,"domain":true,"domainDash":[3,2],"domainColor":"#999","domainWidth":0.7}},"color":{"field":"s","type":"nominal","scale":{"domain":["b","h","q"],"range":["#d9534f","#6f7fc4","#8a7d48"]},"legend":{"title":null,"labelExpr":"datum.value=='b'?'Base case':datum.value=='h'?'H. helix':'P. tricuspidata'"}}}},
{"data":{"name":"NC"},"title":{"text":"Period C","subtitle":"LAI P. tricuspidata 4.8 - LAI H. helix 2.78"},"transform":[{"fold":["b","h","q"],"as":["s","v"]}],"mark":"line","encoding":{"x":{"field":"t","type":"quantitative","scale":{"domain":[-6,174],"nice":false},"axis":{"title":null,"values":[0,24,48,72,96,120,144,168],"labelExpr":"['21-Jul','22-Jul','23-Jul','24-Jul','25-Jul','26-Jul','27-Jul','28-Jul'][round(datum.value/24)]"}},"y":{"field":"v","type":"quantitative","scale":{"domain":[-8,68],"nice":false},"axis":{"values":[-5,5,15,25,35,45,55,65],"labels":false,"title":null,"domain":true,"domainDash":[3,2],"domainColor":"#999","domainWidth":0.7}},"color":{"field":"s","type":"nominal","scale":{"domain":["b","h","q"],"range":["#d9534f","#6f7fc4","#8a7d48"]},"legend":{"title":null,"labelExpr":"datum.value=='b'?'Base case':datum.value=='h'?'H. helix':'P. tricuspidata'"}}}},
{"data":{"name":"ND"},"title":{"text":"Period D","subtitle":"LAI P. tricuspidata 3.9 - LAI H. helix 4.29"},"transform":[{"fold":["b","h","q"],"as":["s","v"]}],"mark":"line","encoding":{"x":{"field":"t","type":"quantitative","scale":{"domain":[-6,174],"nice":false},"axis":{"title":null,"values":[0,24,48,72,96,120,144,168],"labelExpr":"['09-Oct','10-Oct','11-Oct','12-Oct','13-Oct','14-Oct','15-Oct','16-Oct'][round(datum.value/24)]"}},"y":{"field":"v","type":"quantitative","scale":{"domain":[-8,68],"nice":false},"axis":{"values":[-5,5,15,25,35,45,55,65],"labels":false,"title":null,"domain":true,"domainDash":[3,2],"domainColor":"#999","domainWidth":0.7}},"color":{"field":"s","type":"nominal","scale":{"domain":["b","h","q"],"range":["#d9534f","#6f7fc4","#8a7d48"]},"legend":{"title":null,"labelExpr":"datum.value=='b'?'Base case':datum.value=='h'?'H. helix':'P. tricuspidata'"}}}}
]},
{"title":{"text":"MRT profile_East","orient":"top","anchor":"middle","font":"Open Sans","fontSize":6,"fontWeight":"normal","color":"#666","offset":2},"bounds":"flush","spacing":0,"hconcat":[
{"data":{"name":"EA"},"title":{"text":"Period A","subtitle":"LAI P. tricuspidata 0.3 - LAI H. helix 3.72"},"transform":[{"fold":["b","h","q"],"as":["s","v"]}],"mark":"line","encoding":{"x":{"field":"t","type":"quantitative","scale":{"domain":[-6,174],"nice":false},"axis":{"title":null,"values":[0,24,48,72,96,120,144,168],"labelExpr":"['04-Feb','05-Feb','06-Feb','07-Feb','08-Feb','09-Feb','10-Feb','11-Feb'][round(datum.value/24)]"}},"y":{"field":"v","type":"quantitative","scale":{"domain":[-8,68],"nice":false},"axis":{"values":[-5,5,15,25,35,45,55,65],"title":"(°C)"}},"color":{"field":"s","type":"nominal","scale":{"domain":["b","h","q"],"range":["#d9534f","#6f7fc4","#8a7d48"]},"legend":{"title":null,"labelExpr":"datum.value=='b'?'Base case':datum.value=='h'?'H. helix':'P. tricuspidata'"}}}},
{"data":{"name":"EB"},"title":{"text":"Period B","subtitle":"LAI P. tricuspidata 4.3 - LAI H. helix 3.66"},"transform":[{"fold":["b","h","q"],"as":["s","v"]}],"mark":"line","encoding":{"x":{"field":"t","type":"quantitative","scale":{"domain":[-6,174],"nice":false},"axis":{"title":null,"values":[0,24,48,72,96,120,144,168],"labelExpr":"['07-May','08-May','09-May','10-May','11-May','12-May','13-May','14-May'][round(datum.value/24)]"}},"y":{"field":"v","type":"quantitative","scale":{"domain":[-8,68],"nice":false},"axis":{"values":[-5,5,15,25,35,45,55,65],"labels":false,"title":null,"domain":true,"domainDash":[3,2],"domainColor":"#999","domainWidth":0.7}},"color":{"field":"s","type":"nominal","scale":{"domain":["b","h","q"],"range":["#d9534f","#6f7fc4","#8a7d48"]},"legend":{"title":null,"labelExpr":"datum.value=='b'?'Base case':datum.value=='h'?'H. helix':'P. tricuspidata'"}}}},
{"data":{"name":"EC"},"title":{"text":"Period C","subtitle":"LAI P. tricuspidata 4.8 - LAI H. helix 2.78"},"transform":[{"fold":["b","h","q"],"as":["s","v"]}],"mark":"line","encoding":{"x":{"field":"t","type":"quantitative","scale":{"domain":[-6,174],"nice":false},"axis":{"title":null,"values":[0,24,48,72,96,120,144,168],"labelExpr":"['21-Jul','22-Jul','23-Jul','24-Jul','25-Jul','26-Jul','27-Jul','28-Jul'][round(datum.value/24)]"}},"y":{"field":"v","type":"quantitative","scale":{"domain":[-8,68],"nice":false},"axis":{"values":[-5,5,15,25,35,45,55,65],"labels":false,"title":null,"domain":true,"domainDash":[3,2],"domainColor":"#999","domainWidth":0.7}},"color":{"field":"s","type":"nominal","scale":{"domain":["b","h","q"],"range":["#d9534f","#6f7fc4","#8a7d48"]},"legend":{"title":null,"labelExpr":"datum.value=='b'?'Base case':datum.value=='h'?'H. helix':'P. tricuspidata'"}}}},
{"data":{"name":"ED"},"title":{"text":"Period D","subtitle":"LAI P. tricuspidata 3.9 - LAI H. helix 4.29"},"transform":[{"fold":["b","h","q"],"as":["s","v"]}],"mark":"line","encoding":{"x":{"field":"t","type":"quantitative","scale":{"domain":[-6,174],"nice":false},"axis":{"title":null,"values":[0,24,48,72,96,120,144,168],"labelExpr":"['09-Oct','10-Oct','11-Oct','12-Oct','13-Oct','14-Oct','15-Oct','16-Oct'][round(datum.value/24)]"}},"y":{"field":"v","type":"quantitative","scale":{"domain":[-8,68],"nice":false},"axis":{"values":[-5,5,15,25,35,45,55,65],"labels":false,"title":null,"domain":true,"domainDash":[3,2],"domainColor":"#999","domainWidth":0.7}},"color":{"field":"s","type":"nominal","scale":{"domain":["b","h","q"],"range":["#d9534f","#6f7fc4","#8a7d48"]},"legend":{"title":null,"labelExpr":"datum.value=='b'?'Base case':datum.value=='h'?'H. helix':'P. tricuspidata'"}}}}
]},
{"title":{"text":"MRT profile_South","orient":"top","anchor":"middle","font":"Open Sans","fontSize":6,"fontWeight":"normal","color":"#666","offset":2},"bounds":"flush","spacing":0,"hconcat":[
{"data":{"name":"SA"},"title":{"text":"Period A","subtitle":"LAI P. tricuspidata 0.3 - LAI H. helix 3.72"},"transform":[{"fold":["b","h","q"],"as":["s","v"]}],"mark":"line","encoding":{"x":{"field":"t","type":"quantitative","scale":{"domain":[-6,174],"nice":false},"axis":{"title":null,"values":[0,24,48,72,96,120,144,168],"labelExpr":"['04-Feb','05-Feb','06-Feb','07-Feb','08-Feb','09-Feb','10-Feb','11-Feb'][round(datum.value/24)]"}},"y":{"field":"v","type":"quantitative","scale":{"domain":[-8,68],"nice":false},"axis":{"values":[-5,5,15,25,35,45,55,65],"title":"(°C)"}},"color":{"field":"s","type":"nominal","scale":{"domain":["b","h","q"],"range":["#d9534f","#6f7fc4","#8a7d48"]},"legend":{"title":null,"labelExpr":"datum.value=='b'?'Base case':datum.value=='h'?'H. helix':'P. tricuspidata'"}}}},
{"data":{"name":"SB"},"title":{"text":"Period B","subtitle":"LAI P. tricuspidata 4.3 - LAI H. helix 3.66"},"transform":[{"fold":["b","h","q"],"as":["s","v"]}],"mark":"line","encoding":{"x":{"field":"t","type":"quantitative","scale":{"domain":[-6,174],"nice":false},"axis":{"title":null,"values":[0,24,48,72,96,120,144,168],"labelExpr":"['07-May','08-May','09-May','10-May','11-May','12-May','13-May','14-May'][round(datum.value/24)]"}},"y":{"field":"v","type":"quantitative","scale":{"domain":[-8,68],"nice":false},"axis":{"values":[-5,5,15,25,35,45,55,65],"labels":false,"title":null,"domain":true,"domainDash":[3,2],"domainColor":"#999","domainWidth":0.7}},"color":{"field":"s","type":"nominal","scale":{"domain":["b","h","q"],"range":["#d9534f","#6f7fc4","#8a7d48"]},"legend":{"title":null,"labelExpr":"datum.value=='b'?'Base case':datum.value=='h'?'H. helix':'P. tricuspidata'"}}}},
{"data":{"name":"SC"},"title":{"text":"Period C","subtitle":"LAI P. tricuspidata 4.8 - LAI H. helix 2.78"},"transform":[{"fold":["b","h","q"],"as":["s","v"]}],"mark":"line","encoding":{"x":{"field":"t","type":"quantitative","scale":{"domain":[-6,174],"nice":false},"axis":{"title":null,"values":[0,24,48,72,96,120,144,168],"labelExpr":"['21-Jul','22-Jul','23-Jul','24-Jul','25-Jul','26-Jul','27-Jul','28-Jul'][round(datum.value/24)]"}},"y":{"field":"v","type":"quantitative","scale":{"domain":[-8,68],"nice":false},"axis":{"values":[-5,5,15,25,35,45,55,65],"labels":false,"title":null,"domain":true,"domainDash":[3,2],"domainColor":"#999","domainWidth":0.7}},"color":{"field":"s","type":"nominal","scale":{"domain":["b","h","q"],"range":["#d9534f","#6f7fc4","#8a7d48"]},"legend":{"title":null,"labelExpr":"datum.value=='b'?'Base case':datum.value=='h'?'H. helix':'P. tricuspidata'"}}}},
{"data":{"name":"SD"},"title":{"text":"Period D","subtitle":"LAI P. tricuspidata 3.9 - LAI H. helix 4.29"},"transform":[{"fold":["b","h","q"],"as":["s","v"]}],"mark":"line","encoding":{"x":{"field":"t","type":"quantitative","scale":{"domain":[-6,174],"nice":false},"axis":{"title":null,"values":[0,24,48,72,96,120,144,168],"labelExpr":"['09-Oct','10-Oct','11-Oct','12-Oct','13-Oct','14-Oct','15-Oct','16-Oct'][round(datum.value/24)]"}},"y":{"field":"v","type":"quantitative","scale":{"domain":[-8,68],"nice":false},"axis":{"values":[-5,5,15,25,35,45,55,65],"labels":false,"title":null,"domain":true,"domainDash":[3,2],"domainColor":"#999","domainWidth":0.7}},"color":{"field":"s","type":"nominal","scale":{"domain":["b","h","q"],"range":["#d9534f","#6f7fc4","#8a7d48"]},"legend":{"title":null,"labelExpr":"datum.value=='b'?'Base case':datum.value=='h'?'H. helix':'P. tricuspidata'"}}}}
]},
{"title":{"text":"MRT profile_West","orient":"top","anchor":"middle","font":"Open Sans","fontSize":6,"fontWeight":"normal","color":"#666","offset":2},"bounds":"flush","spacing":0,"hconcat":[
{"data":{"name":"WA"},"title":{"text":"Period A","subtitle":"LAI P. tricuspidata 0.3 - LAI H. helix 3.72"},"transform":[{"fold":["b","h","q"],"as":["s","v"]}],"mark":"line","encoding":{"x":{"field":"t","type":"quantitative","scale":{"domain":[-6,174],"nice":false},"axis":{"title":null,"values":[0,24,48,72,96,120,144,168],"labelExpr":"['04-Feb','05-Feb','06-Feb','07-Feb','08-Feb','09-Feb','10-Feb','11-Feb'][round(datum.value/24)]"}},"y":{"field":"v","type":"quantitative","scale":{"domain":[-8,68],"nice":false},"axis":{"values":[-5,5,15,25,35,45,55,65],"title":"(°C)"}},"color":{"field":"s","type":"nominal","scale":{"domain":["b","h","q"],"range":["#d9534f","#6f7fc4","#8a7d48"]},"legend":{"title":null,"labelExpr":"datum.value=='b'?'Base case':datum.value=='h'?'H. helix':'P. tricuspidata'"}}}},
{"data":{"name":"WB"},"title":{"text":"Period B","subtitle":"LAI P. tricuspidata 4.3 - LAI H. helix 3.66"},"transform":[{"fold":["b","h","q"],"as":["s","v"]}],"mark":"line","encoding":{"x":{"field":"t","type":"quantitative","scale":{"domain":[-6,174],"nice":false},"axis":{"title":null,"values":[0,24,48,72,96,120,144,168],"labelExpr":"['07-May','08-May','09-May','10-May','11-May','12-May','13-May','14-May'][round(datum.value/24)]"}},"y":{"field":"v","type":"quantitative","scale":{"domain":[-8,68],"nice":false},"axis":{"values":[-5,5,15,25,35,45,55,65],"labels":false,"title":null,"domain":true,"domainDash":[3,2],"domainColor":"#999","domainWidth":0.7}},"color":{"field":"s","type":"nominal","scale":{"domain":["b","h","q"],"range":["#d9534f","#6f7fc4","#8a7d48"]},"legend":{"title":null,"labelExpr":"datum.value=='b'?'Base case':datum.value=='h'?'H. helix':'P. tricuspidata'"}}}},
{"data":{"name":"WC"},"title":{"text":"Period C","subtitle":"LAI P. tricuspidata 4.8 - LAI H. helix 2.78"},"transform":[{"fold":["b","h","q"],"as":["s","v"]}],"mark":"line","encoding":{"x":{"field":"t","type":"quantitative","scale":{"domain":[-6,174],"nice":false},"axis":{"title":null,"values":[0,24,48,72,96,120,144,168],"labelExpr":"['21-Jul','22-Jul','23-Jul','24-Jul','25-Jul','26-Jul','27-Jul','28-Jul'][round(datum.value/24)]"}},"y":{"field":"v","type":"quantitative","scale":{"domain":[-8,68],"nice":false},"axis":{"values":[-5,5,15,25,35,45,55,65],"labels":false,"title":null,"domain":true,"domainDash":[3,2],"domainColor":"#999","domainWidth":0.7}},"color":{"field":"s","type":"nominal","scale":{"domain":["b","h","q"],"range":["#d9534f","#6f7fc4","#8a7d48"]},"legend":{"title":null,"labelExpr":"datum.value=='b'?'Base case':datum.value=='h'?'H. helix':'P. tricuspidata'"}}}},
{"data":{"name":"WD"},"title":{"text":"Period D","subtitle":"LAI P. tricuspidata 3.9 - LAI H. helix 4.29"},"transform":[{"fold":["b","h","q"],"as":["s","v"]}],"mark":"line","encoding":{"x":{"field":"t","type":"quantitative","scale":{"domain":[-6,174],"nice":false},"axis":{"title":null,"values":[0,24,48,72,96,120,144,168],"labelExpr":"['09-Oct','10-Oct','11-Oct','12-Oct','13-Oct','14-Oct','15-Oct','16-Oct'][round(datum.value/24)]"}},"y":{"field":"v","type":"quantitative","scale":{"domain":[-8,68],"nice":false},"axis":{"values":[-5,5,15,25,35,45,55,65],"labels":false,"title":null,"domain":true,"domainDash":[3,2],"domainColor":"#999","domainWidth":0.7}},"color":{"field":"s","type":"nominal","scale":{"domain":["b","h","q"],"range":["#d9534f","#6f7fc4","#8a7d48"]},"legend":{"title":null,"labelExpr":"datum.value=='b'?'Base case':datum.value=='h'?'H. helix':'P. tricuspidata'"}}}}
]}
]
}
